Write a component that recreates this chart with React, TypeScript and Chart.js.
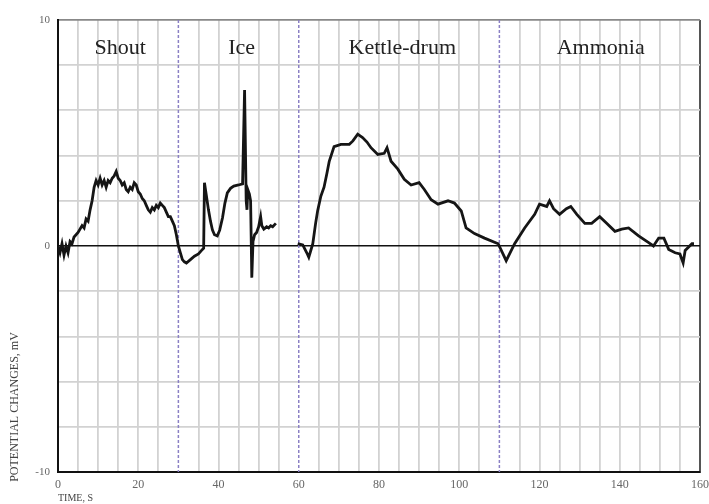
import React, { useEffect, useRef } from "react";
import { Chart, registerables } from "chart.js";

Chart.register(...registerables);

// Segment 1: Shout + Ice (time in s, potential in mV)
const time1 = [0, 0.5, 1, 1.5, 2, 2.5, 3, 3.5, 4, 5, 6, 6.5, 7, 7.5, 8, 8.5, 9, 9.5, 10, 10.5, 11, 11.5, 12, 12.5, 13, 13.5, 14, 14.5, 15, 15.5, 16, 16.5, 17, 17.5, 18, 18.5, 19, 19.5, 20, 20.5, 21, 21.5, 22, 22.5, 23, 23.5, 24, 24.5, 25, 25.5, 26, 26.5, 27, 27.5, 28, 28.5, 29, 29.5, 30, 30.5, 31, 31.5, 32, 33, 34, 35, 36, 36.3, 36.5, 37, 37.5, 38, 38.5, 39, 39.7, 40.3, 41, 41.6, 42.2, 43, 43.8, 45, 46, 46.5, 46.9, 47.1, 47.3, 47.7, 48, 48.3, 48.6, 49, 49.5, 50, 50.5, 50.8, 51.3, 52, 52.5, 53, 53.5, 54.3];
const volts1 = [0.0, -0.3, 0.1, -0.4, 0.0, -0.3, 0.2, 0.1, 0.4, 0.6, 0.9, 0.8, 1.2, 1.1, 1.6, 2.0, 2.6, 2.9, 2.7, 3.0, 2.7, 2.9, 2.6, 2.9, 2.8, 3.0, 3.1, 3.3, 3.0, 2.9, 2.7, 2.8, 2.5, 2.4, 2.6, 2.5, 2.8, 2.7, 2.4, 2.3, 2.1, 2.0, 1.8, 1.6, 1.5, 1.7, 1.6, 1.8, 1.7, 1.9, 1.8, 1.7, 1.5, 1.3, 1.3, 1.1, 0.9, 0.5, 0.0, -0.3, -0.6, -0.7, -0.75, -0.6, -0.45, -0.35, -0.15, -0.1, 2.8, 2.2, 1.6, 1.1, 0.7, 0.5, 0.45, 0.7, 1.25, 1.9, 2.35, 2.55, 2.65, 2.7, 2.75, 6.9, 2.0, 1.6, 2.5, 2.3, 2.0, -1.4, 0.2, 0.5, 0.6, 0.85, 1.3, 0.9, 0.75, 0.85, 0.8, 0.9, 0.85, 1.0];

// Segment 2: Kettle-drum + Ammonia
const time2 = [59.75, 61, 62, 62.5, 63, 63.5, 64.2, 64.7, 65.5, 66.3, 67, 67.6, 68.8, 70.5, 72.6, 73.5, 74.7, 75.9, 77, 78, 79.7, 81.3, 82, 83, 84.7, 86.3, 88, 90, 91.3, 93, 94.7, 97.2, 98.8, 100.5, 101.7, 103.8, 106.3, 109.7, 111.7, 113.8, 116.3, 118.8, 120, 121.8, 122.5, 123.5, 125, 126.7, 127.8, 129.3, 131.3, 133, 135, 136.8, 138.8, 140.5, 142.2, 144.7, 147.2, 148.4, 149.7, 151, 152.2, 153.8, 155, 155.8, 156.3, 158, 158.5];
const volts2 = [0.1, 0.05, -0.3, -0.5, -0.2, 0.1, 1.0, 1.55, 2.2, 2.6, 3.2, 3.75, 4.4, 4.5, 4.5, 4.65, 4.95, 4.8, 4.6, 4.35, 4.05, 4.1, 4.35, 3.75, 3.4, 2.95, 2.7, 2.8, 2.5, 2.05, 1.85, 2.0, 1.9, 1.55, 0.8, 0.55, 0.35, 0.1, -0.65, 0.1, 0.8, 1.4, 1.85, 1.75, 2.0, 1.65, 1.4, 1.65, 1.75, 1.4, 1.0, 1.0, 1.3, 1.0, 0.65, 0.75, 0.8, 0.45, 0.15, 0.0, 0.35, 0.35, -0.15, -0.3, -0.35, -0.75, -0.2, 0.1, 0.1];

// Stimulus labels and boundaries
const stimulusNames = ["Shout", "Ice", "Kettle-drum", "Ammonia"];
const stimulusCenters = [15.5, 45.75, 85.8, 135.25];
const boundaries = [30, 60, 110];

const xTickLabels = [0, 20, 40, 60, 80, 100, 120, 140, 160];
const yTickLabels = [-10, 0, 10];

const xTitle = "TIME, S";
const yTitle = "POTENTIAL CHANGES, mV";

const SERIF = "'Liberation Serif', 'DejaVu Serif', serif";

export default function App() {
  const ref = useRef<HTMLCanvasElement>(null);

  useEffect(() => {
    if (!ref.current) return;
    const overlay = {
      id: "overlay",
      beforeDatasetsDraw(chart: any) {
        const { ctx, chartArea, scales } = chart;
        ctx.save();
        ctx.strokeStyle = "#8b80c4";
        ctx.lineWidth = 1.5;
        ctx.setLineDash([3, 2]);
        boundaries.forEach((b) => {
          const x = scales.x.getPixelForValue(b);
          ctx.beginPath();
          ctx.moveTo(x, chartArea.top);
          ctx.lineTo(x, chartArea.bottom);
          ctx.stroke();
        });
        ctx.restore();
      },
      afterDatasetsDraw(chart: any) {
        const { ctx, scales, chartArea } = chart;
        ctx.save();
        ctx.fillStyle = "#222";
        ctx.font = `22px ${SERIF}`;
        ctx.textAlign = "center";
        ctx.textBaseline = "alphabetic";
        stimulusNames.forEach((n, i) => {
          const x = scales.x.getPixelForValue(stimulusCenters[i]);
          const y = scales.y.getPixelForValue(8.5);
          ctx.fillText(n, x, y);
        });
        // axis titles
        ctx.fillStyle = "#444";
        ctx.font = `10px ${SERIF}`;
        ctx.textAlign = "left";
        ctx.textBaseline = "middle";
        ctx.fillText(xTitle, chartArea.left, 498);
        ctx.translate(15, 407);
        ctx.rotate(-Math.PI / 2);
        ctx.textAlign = "center";
        ctx.font = `12px ${SERIF}`;
        ctx.fillText(yTitle, 0, 0);
        ctx.restore();
      },
    };

    const chart = new Chart(ref.current, {
      type: "line",
      data: {
        datasets: [
          {
            data: time1.map((t, i) => ({ x: t, y: volts1[i] })),
            borderColor: "#151515",
            borderWidth: 2.8,
            pointRadius: 0,
            tension: 0,
          },
          {
            data: time2.map((t, i) => ({ x: t, y: volts2[i] })),
            borderColor: "#151515",
            borderWidth: 2.8,
            pointRadius: 0,
            tension: 0,
          },
        ],
      },
      options: {
        animation: false,
        responsive: false,
        maintainAspectRatio: false,
        layout: { padding: { top: 20, right: 9, left: 0, bottom: 0 } },
        plugins: { legend: { display: false }, tooltip: { enabled: false } },
        scales: {
          x: {
            type: "linear",
            min: 0,
            max: 160,
            afterFit(scale: any) {
              scale.height = 32;
              scale.paddingRight = 0;
              scale.paddingLeft = 0;
            },
            ticks: {
              stepSize: 5,
              autoSkip: false,
              maxRotation: 0,
              padding: 6,
              color: "#666",
              font: { family: SERIF, size: 12 },
              callback: (v: any) => (xTickLabels.includes(Number(v)) ? String(v) : ""),
            },
            grid: {
              drawTicks: false,
              lineWidth: (c: any) => (c.tick && c.tick.value === 160 ? 2 : 1.8),
              color: (c: any) => {
                const v = c.tick ? c.tick.value : null;
                if (boundaries.includes(v)) return "rgba(0,0,0,0)";
                if (v === 160) return "#555";
                return "#d2d2d2";
              },
            },
            border: { display: true, color: "#111", width: 2 },
          },
          y: {
            min: -10,
            max: 10,
            afterFit(scale: any) {
              scale.width = 58;
              scale.paddingTop = 0;
              scale.paddingBottom = 0;
            },
            ticks: {
              stepSize: 2,
              autoSkip: false,
              padding: 8,
              color: "#666",
              font: { family: SERIF, size: 11 },
              callback: (v: any) => (yTickLabels.includes(Number(v)) ? String(v) : ""),
            },
            grid: {
              drawTicks: false,
              lineWidth: (c: any) => (c.tick && c.tick.value === 0 ? 1.5 : 1.8),
              color: (c: any) => {
                const v = c.tick ? c.tick.value : null;
                if (v === 0) return "#111";
                if (v === 10) return "#888";
                return "#d2d2d2";
              },
            },
            border: { display: true, color: "#111", width: 2 },
          },
        },
      },
      plugins: [overlay],
    } as any);
    return () => chart.destroy();
  }, []);

  return (
    <div style={{ position: "absolute", left: 0, top: 0, width: 709, height: 504, background: "#fff" }}>
      <canvas ref={ref} width={709} height={504} style={{ width: 709, height: 504 }} />
    </div>
  );
}
